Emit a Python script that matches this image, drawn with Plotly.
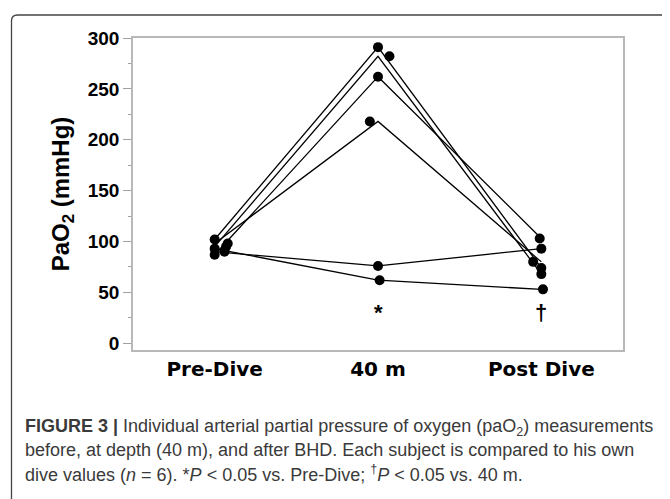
import plotly.graph_objects as go

# ---- data ----
categories = ["Pre-Dive", "40 m", "Post Dive"]
subject_A = [102, 291, 74]
subject_B = [95, 282, 68]
subject_C = [87, 262, 103]
subject_D = [98, 218, 80]
subject_E = [90, 76, 93]
subject_F = [93, 62, 53]
subjects = [subject_A, subject_B, subject_C, subject_D, subject_E, subject_F]
y_ticks = [0, 50, 100, 150, 200, 250, 300]
# small horizontal marker jitter (category units), display only
jitter_dx = [
    [0.00, 0.00, 0.00],
    [0.07, 0.07, 0.00],
    [0.00, 0.00, -0.01],
    [0.08, -0.05, -0.05],
    [0.06, 0.00, 0.00],
    [0.00, 0.01, 0.01],
]

# page body has an 8px margin, so figure coords = screen coords - 8
OFF = 8
W, H = 670, 499
L, R, T, B = 133 - OFF, 670 - (623 - OFF), 38 - OFF, 499 - (350 - OFF)
pw, ph = W - L - R, H - T - B

def px(x_screen):
    return (x_screen - OFF - L) / pw

def py(y_screen):
    return (H - B - (y_screen - OFF)) / ph

FONT = "Liberation Sans, Arial, sans-serif"
XFONT = "DejaVu Sans, Verdana, sans-serif"

fig = go.Figure()
xi = list(range(len(categories)))
for s in subjects:
    fig.add_trace(go.Scatter(x=xi, y=s, mode="lines",
                             line=dict(color="black", width=1.3),
                             showlegend=False, hoverinfo="skip"))
for s, dx in zip(subjects, jitter_dx):
    fig.add_trace(go.Scatter(x=[i + d for i, d in zip(xi, dx)], y=s, mode="markers",
                             marker=dict(color="black", size=10),
                             showlegend=False))

fig.update_layout(
    width=W, height=H,
    margin=dict(l=L, r=R, t=T, b=B),
    paper_bgcolor="white", plot_bgcolor="white",
    font=dict(family=FONT, color="black"),
    xaxis=dict(range=[-0.5, 2.5], tickvals=xi, ticktext=categories,
               showline=True, mirror=True, linecolor="#b8b8b8", linewidth=1.5,
               showgrid=False, zeroline=False, ticks="",
               tickfont=dict(size=20, family=XFONT, weight="bold", color="black")),
    yaxis=dict(range=[-6.6, 300], tickvals=y_ticks,
               showline=True, mirror=True, linecolor="#b8b8b8", linewidth=1.5,
               showgrid=False, zeroline=False,
               ticks="outside", ticklen=8, tickcolor="#a0a0a0", tickwidth=1,
               minor=dict(dtick=25, ticks="outside", ticklen=3, tickcolor="#a0a0a0", tickwidth=1, showgrid=False),
               tickfont=dict(size=19, family=FONT, weight="bold", color="black"),
               title=dict(text="PaO<sub>2</sub> (mmHg)",
                          font=dict(size=24, family=FONT, weight="bold", color="black"),
                          standoff=11)),
)

# significance marks
mark_font = dict(size=22, family=FONT, weight="bold", color="black")
fig.add_annotation(x=1, y=30, text="*", showarrow=False, font=mark_font, xref="x", yref="y")
fig.add_annotation(x=2, y=30, text="†", showarrow=False, font=mark_font, xref="x", yref="y")

# caption
cap_font = dict(size=18, color="#3a3a3a", family=FONT)
cap_lines = [
    "<b>FIGURE 3 |</b> Individual arterial partial pressure of oxygen (paO<sub>2</sub>) measurements",
    "before, at depth (40 m), and after BHD. Each subject is compared to his own",
    "dive values (<i>n</i> = 6). *<i>P</i> &lt; 0.05 vs. Pre-Dive; <sup>†</sup><i>P</i> &lt; 0.05 vs. 40 m.",
]
cap_bottoms = [441, 462, 487]
for t, yb in zip(cap_lines, cap_bottoms):
    fig.add_annotation(x=px(23), y=py(yb), xref="paper", yref="paper",
                       xanchor="left", yanchor="bottom", text=t, showarrow=False,
                       font=cap_font, align="left")

# outer rounded frame
x0, x1 = px(11.5), px(667.5)
y0, y1 = py(540), py(15)
rx, ry = 6 / pw, 6 / ph
path = (f"M {x0+rx},{y1} L {x1-rx},{y1} Q {x1},{y1} {x1},{y1-ry} "
        f"L {x1},{y0+ry} Q {x1},{y0} {x1-rx},{y0} L {x0+rx},{y0} Q {x0},{y0} {x0},{y0+ry} "
        f"L {x0},{y1-ry} Q {x0},{y1} {x0+rx},{y1} Z")
fig.add_shape(type="path", path=path, xref="paper", yref="paper",
              line=dict(color="#444444", width=1.3), fillcolor="rgba(0,0,0,0)", layer="below")

fig.write_html("out.html")
